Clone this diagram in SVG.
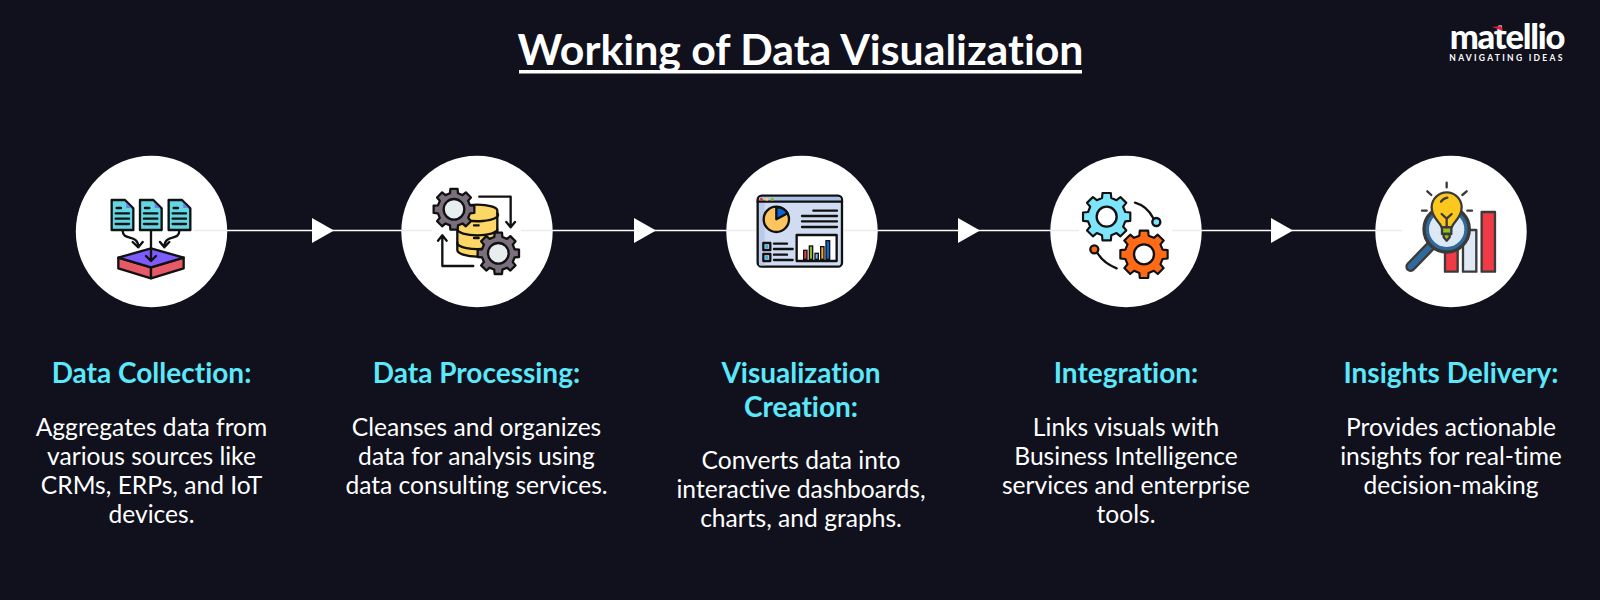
<svg xmlns="http://www.w3.org/2000/svg" xmlns:xlink="http://www.w3.org/1999/xlink" width="1600" height="600" viewBox="0 0 1600 600">
<style>
text{font-family:"Lato","Liberation Sans",sans-serif;text-anchor:middle;font-variant-ligatures:none}
.title{font-size:42.800px;font-weight:700;fill:#fff}
.h{font-size:28px;font-weight:700;fill:#5ce8fb}
.b{font-size:24.600px;font-weight:400;fill:#fff}
.disc{fill:#fff}
.conn{fill:none;stroke:#fff;stroke-width:1.500;marker-mid:url(#tri)}
.faint{stroke:#ececec;stroke-width:1.500}
.ol{stroke:#111;stroke-width:7;stroke-linejoin:round;stroke-linecap:round}
.ln{fill:none;stroke:#111;stroke-width:7;stroke-linejoin:round;stroke-linecap:round}
.dk{stroke:#3a3a3a;stroke-width:7;stroke-linejoin:round;stroke-linecap:round}
</style>
<defs>
<marker id="tri" markerUnits="userSpaceOnUse" markerWidth="22" markerHeight="25" refX="22" refY="12.4" orient="auto"><path d="M0 0L22 12.4L0 24.8Z" fill="#fff"/></marker>
<path id="gear" d="M-17.4-98.5L17.4-98.5L19.4-77.6L41.2-68.6L57.4-81.9L81.9-57.4L68.6-41.2L77.6-19.4L98.5-17.4L98.5 17.4L77.6 19.4L68.6 41.2L81.9 57.4L57.4 81.9L41.2 68.6L19.4 77.6L17.4 98.5L-17.4 98.5L-19.4 77.6L-41.2 68.6L-57.4 81.9L-81.9 57.4L-68.6 41.2L-77.6 19.4L-98.5 17.4L-98.5-17.4L-77.6-19.4L-68.6-41.2L-81.9-57.4L-57.4-81.9L-41.2-68.6L-19.4-77.6Z" stroke="#111" stroke-linejoin="round"/>
<g id="doc"><path class="ol" d="M0 0H40L65 25V90H0Z" fill="#63d6e4"/><path d="M44 8L60 24H44Z" fill="#6a7de8"/><path class="ln" d="M15 24H28M12 40H52M12 56H52M12 72H52"/></g>
</defs>
<rect width="1600" height="600" fill="#10111d"/>

<g id="title"><text class="title" x="800.500" y="64.500">Working of Data Visualization</text><rect x="519" y="70" width="563" height="3.500" fill="#fff"/></g>
<g id="logo"><text x="1507" y="49" font-size="34.500" font-weight="900" fill="#fff" letter-spacing="-1.200">matellio</text><polygon points="1492,27 1501,26 1503,31" fill="#e01e37"/><text x="1507" y="61" font-size="8.500" font-weight="700" fill="#fff" letter-spacing="2.300">NAVIGATING IDEAS</text></g>

<g id="node1"><circle class="disc" cx="151.500" cy="231.500" r="75.700"/>
<g transform="translate(70 150) scale(.3333)">
<use xlink:href="#doc" href="#doc" x="125" y="150"/><use xlink:href="#doc" href="#doc" x="210" y="150"/><use xlink:href="#doc" href="#doc" x="296" y="150"/>
<path class="ol" d="M145 323L243 352V385L145 355Z" fill="#e55a66"/><path class="ol" d="M341 323L243 352V385L341 355Z" fill="#e55a66"/><path class="ol" d="M145 323L243 295L341 323L243 352Z" fill="#7c5cfc"/>
<path class="ln" d="M158 242C158 275 205 250 205 292M188 276L205 292L218 276M243 242V333M228 318L243 333L258 318M328 242C328 275 283 250 283 292M270 276L283 292L298 276"/>
</g>
<text class="h" x="151.500" y="383">Data Collection:</text>
<text class="b" x="151.500" y="436">Aggregates data from</text><text class="b" x="151.500" y="465">various sources like</text><text class="b" x="151.500" y="494">CRMs, ERPs, and IoT</text><text class="b" x="151.500" y="523">devices.</text></g>

<g id="node2"><circle class="disc" cx="477" cy="231.500" r="75.700"/>
<g transform="translate(390 150) scale(.3333)">
<path class="ol" d="M202 182A60 18 0 0 1 322 182V300A60 20 0 0 1 202 300Z" fill="#fcd765"/>
<path class="ln" d="M202 200A60 18 0 0 0 322 190M202 238A60 18 0 0 0 322 238M202 278A60 18 0 0 0 290 295M252 226H266M252 264H266"/>
<path class="ln" d="M268 140H362V230M349 216L362 232L375 216M250 348H157V258M144 272L157 256L170 272"/>
<use href="#gear" xlink:href="#gear" transform="translate(192 178) scale(.62)" fill="#7a6f7d" stroke-width="11"/><circle class="ol" cx="192" cy="178" r="31" fill="#e8edf0"/>
<use href="#gear" xlink:href="#gear" transform="translate(325 310) scale(.63)" fill="#7a6f7d" stroke-width="11"/><circle class="ol" cx="325" cy="310" r="31" fill="#e8edf0"/>
</g>
<text class="h" x="476.500" y="383">Data Processing:</text>
<text class="b" x="476.500" y="436">Cleanses and organizes</text><text class="b" x="476.500" y="465">data for analysis using</text><text class="b" x="476.500" y="494">data consulting services.</text></g>

<g id="node3"><circle class="disc" cx="802" cy="231.500" r="75.700"/>
<g transform="translate(710 150) scale(.3333)">
<rect class="ol" x="143" y="137" width="253" height="213" rx="12" fill="#cfdcf2"/>
<rect x="147" y="156" width="17" height="190" fill="#b9cbe8"/>
<path d="M147 152V148Q147 141 154 141H385Q392 141 392 148V154H147Z" fill="#a9c0e6"/>
<path class="ln" d="M143 155H396"/>
<circle cx="154" cy="148" r="4.500" fill="#e33"/><circle cx="170" cy="148" r="4.500" fill="#fc6"/><circle cx="187" cy="148" r="4.500" fill="#8b1"/>
<circle class="ol" cx="199" cy="208" r="38" fill="#fcc55f"/><path class="ol" d="M199 208V172A38 38 0 0 1 233 190Z" fill="#0a66d8"/>
<path class="ln" d="M310 182H381M276 198H381M276 214H381M276 231H381M192 281H231M192 297H248M192 314H231M192 330H248"/>
<rect class="ol" x="160" y="279" width="21" height="21" fill="#cfdcf2"/><rect x="166" y="285" width="9" height="9" fill="#28b4e6"/>
<rect class="ol" x="160" y="312" width="21" height="21" fill="#cfdcf2"/><rect x="166" y="318" width="9" height="9" fill="#28b4e6"/>
<rect class="ol" x="260" y="255" width="120" height="78" fill="#fff"/>
<rect x="281" y="301" width="10" height="27" style="fill:#e8404a;stroke:#111;stroke-width:4"/><rect x="298" y="288" width="10" height="40" style="fill:#8dbb1a;stroke:#111;stroke-width:4"/><rect x="315" y="310" width="10" height="18" style="fill:#5cc8ee;stroke:#111;stroke-width:4"/><rect x="332" y="290" width="10" height="38" style="fill:#f5a623;stroke:#111;stroke-width:4"/><rect x="348" y="272" width="11" height="56" style="fill:#0a66d8;stroke:#111;stroke-width:4"/>
</g>
<text class="h" x="801" y="383">Visualization</text><text class="h" x="801" y="417">Creation:</text>
<text class="b" x="801" y="469">Converts data into</text><text class="b" x="801" y="498">interactive dashboards,</text><text class="b" x="801" y="527">charts, and graphs.</text></g>

<g id="node4"><circle class="disc" cx="1126" cy="231.500" r="75.700"/>
<g transform="translate(1025 150) scale(.3333)">
<use href="#gear" xlink:href="#gear" transform="translate(245 200) scale(.72)" fill="#7ce4fb" stroke-width="9"/><circle class="ol" cx="245" cy="200" r="30" fill="#fff"/>
<use href="#gear" xlink:href="#gear" transform="translate(357 313) scale(.72)" fill="#ff6a17" stroke-width="9"/><circle class="ol" cx="357" cy="313" r="30" fill="#fff"/>
<path class="ln" d="M330 158C355 165 375 185 385 205M275 355C250 345 230 330 218 310"/>
<circle class="ol" cx="394" cy="216" r="12" fill="#7ce4fb"/><circle class="ol" cx="208" cy="298" r="12" fill="#ff6a17"/>
</g>
<text class="h" x="1126" y="383">Integration:</text>
<text class="b" x="1126" y="436">Links visuals with</text><text class="b" x="1126" y="465">Business Intelligence</text><text class="b" x="1126" y="494">services and enterprise</text><text class="b" x="1126" y="523">tools.</text></g>

<g id="node5"><circle class="disc" cx="1451" cy="231.500" r="75.700"/>
<g transform="translate(1340 150) scale(.3333)">
<rect class="dk" x="315" y="300" width="38" height="65" fill="#f03a45"/><rect class="dk" x="369" y="240" width="40" height="125" fill="#dfe9f5"/><rect class="dk" x="425" y="186" width="40" height="179" fill="#f03a45"/>
<path d="M270 290L212 350" stroke="#3a3a3a" stroke-width="32" stroke-linecap="round"/><path d="M270 290L212 350" stroke="#2f6a9a" stroke-width="18" stroke-linecap="round"/>
<circle cx="320" cy="238" r="66" fill="#dce9f5" stroke="#3a3a3a" stroke-width="14"/><circle cx="320" cy="238" r="58" fill="none" stroke="#2f6a9a" stroke-width="10"/>
<path class="dk" d="M305 232C300 215 275 205 275 172A45 45 0 0 1 365 172C365 205 340 215 335 232Z" fill="#fcc81e"/>
<rect class="dk" x="306" y="232" width="28" height="20" fill="#9abf1a"/><path class="dk" d="M311 252H329V262L320 272L311 262Z" fill="#9abf1a"/>
<path class="dk" fill="none" d="M320 232V206L305 192M320 206L335 192M303 155Q310 145 322 143M320 98V112M262 124L274 135M380 124L367 135M246 182H260M382 182H396"/>
</g>
<text class="h" x="1451" y="383">Insights Delivery:</text>
<text class="b" x="1451" y="436">Provides actionable</text><text class="b" x="1451" y="465">insights for real-time</text><text class="b" x="1451" y="494">decision-making</text></g>

<g id="connectors">
<polyline class="conn" points="227,230.500 334,230.500 401,230.500"/>
<polyline class="conn" points="553,230.500 656,230.500 726,230.500"/>
<polyline class="conn" points="878,230.500 980,230.500 1050,230.500"/>
<polyline class="conn" points="1202,230.500 1293,230.500 1375,230.500"/>
<path class="faint" d="M194 230.500H227M401 230.500H432M521 230.500H553M726 230.500H756M844 230.500H878M1050 230.500H1079M1172 230.500H1202M1375 230.500H1402"/>
</g>
</svg>
